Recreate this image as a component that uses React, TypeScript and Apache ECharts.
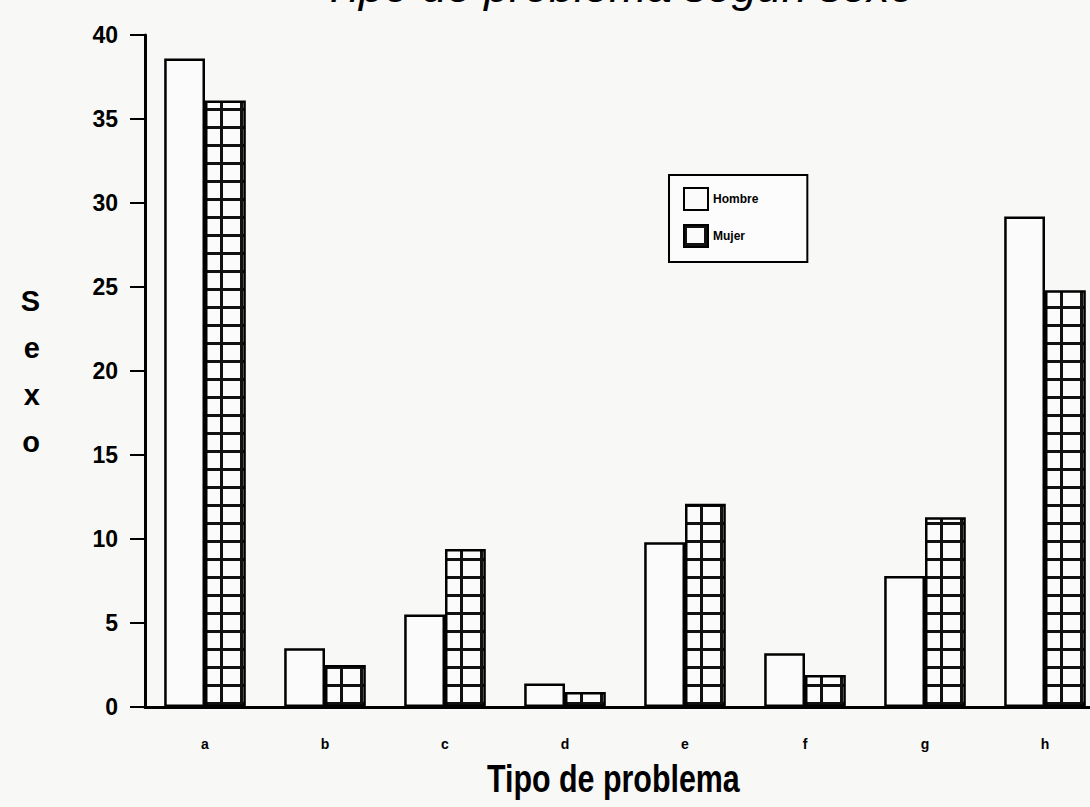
import React, { useEffect, useRef } from "react";
import * as echarts from "echarts";

const categories = ["a", "b", "c", "d", "e", "f", "g", "h"];
const categoryLabels = ["a", "b", "c", "d", "e", "f", "g", "h"];
const hombre = [38.6, 3.5, 5.5, 1.4, 9.8, 3.2, 7.8, 29.2];
const mujer = [36.1, 2.5, 9.4, 0.9, 12.1, 1.9, 11.3, 24.8];
const yTicks = { min: 0, max: 40, interval: 5 };
const seriesNames = ["Hombre", "Mujer"];
const titleText = "Tipo de problema según sexo";
const xName = "Tipo de problema";
const yName = "Sexo";

const FONT = "'Liberation Sans', Arial, sans-serif";

function makeGridTile(): HTMLCanvasElement {
  const c = document.createElement("canvas");
  c.width = 20;
  c.height = 18;
  const ctx = c.getContext("2d")!;
  ctx.fillStyle = "#fbfbfb";
  ctx.fillRect(0, 0, 20, 18);
  ctx.fillStyle = "#111";
  ctx.fillRect(0, 0, 3, 18);
  ctx.fillRect(0, 0, 20, 3);
  return c;
}

export default function App() {
  const ref = useRef<HTMLDivElement>(null);
  useEffect(() => {
    document.body.style.margin = "0";
    const chart = echarts.init(ref.current!, null, { renderer: "svg" });
    const tile = makeGridTile();
    const pattern: any = {
      image: tile,
      repeat: "repeat",
      imageWidth: 20,
      imageHeight: 18,
      x: 3.5,
      y: 3.5,
    };
    chart.setOption({
      animation: false,
      backgroundColor: "#f8f8f7",
      textStyle: { fontFamily: FONT, color: "#000" },
      graphic: [
        {
          type: "text",
          left: 322,
          top: -36,
          style: {
            text: titleText,
            font: "italic 45px 'Liberation Sans', sans-serif",
            fill: "#000",
          },
        },
        {
          type: "text",
          left: 487,
          top: 760,
          scaleX: 0.8,
          style: {
            text: xName,
            font: "bold 38px 'Liberation Sans', sans-serif",
            fill: "#000",
          },
        },
      ],
      legend: {
        orient: "vertical",
        left: 669,
        top: 175,
        padding: [12, 49, 14, 14],
        itemWidth: 24,
        itemHeight: 22,
        itemGap: 13,
        icon: "rect",
        borderColor: "#000",
        borderWidth: 2,
        backgroundColor: "#fcfcfc",
        textStyle: { fontFamily: FONT, fontWeight: "bold", fontSize: 12, color: "#000" },
        data: seriesNames,
      },
      grid: { left: 145, top: 35, right: 0, bottom: 100, containLabel: false },
      xAxis: {
        type: "category",
        data: categories,
        axisLine: { lineStyle: { color: "#000", width: 3 } },
        axisTick: { show: false },
        axisLabel: {
          fontFamily: FONT,
          fontWeight: "bold",
          fontSize: 14,
          color: "#000",
          margin: 30,
          formatter: (_v: string, i: number) => categoryLabels[i],
        },
      },
      yAxis: {
        type: "value",
        min: yTicks.min,
        max: yTicks.max,
        interval: yTicks.interval,
        name: yName.split("").join("\n"),
        nameLocation: "middle",
        nameRotate: 0,
        nameGap: 105,
        nameTextStyle: {
          fontFamily: FONT,
          fontWeight: "bold",
          fontSize: 29,
          lineHeight: 47,
          color: "#000",
        },
        splitLine: { show: false },
        axisLine: { show: true, lineStyle: { color: "#000", width: 3 } },
        axisTick: { show: true, length: 15, lineStyle: { color: "#000", width: 2 } },
        axisLabel: {
          fontFamily: FONT,
          fontWeight: "bold",
          fontSize: 23,
          color: "#000",
          margin: 27,
        },
      },
      series: [
        {
          name: seriesNames[0],
          type: "bar",
          data: hombre,
          barGap: "0%",
          barCategoryGap: "32%",
          itemStyle: { color: "#fbfbfb", borderColor: "#000", borderWidth: 2.5 },
        },
        {
          name: seriesNames[1],
          type: "bar",
          data: mujer,
          barGap: "0%",
          barCategoryGap: "32%",
          itemStyle: { color: pattern, borderColor: "#000", borderWidth: 2.5 },
        },
      ],
    });
    return () => chart.dispose();
  }, []);
  return (
    <div style={{ width: 1090, height: 807, overflow: "hidden", position: "relative" }}>
      <div ref={ref} style={{ width: 1105, height: 807 }} />
    </div>
  );
}
